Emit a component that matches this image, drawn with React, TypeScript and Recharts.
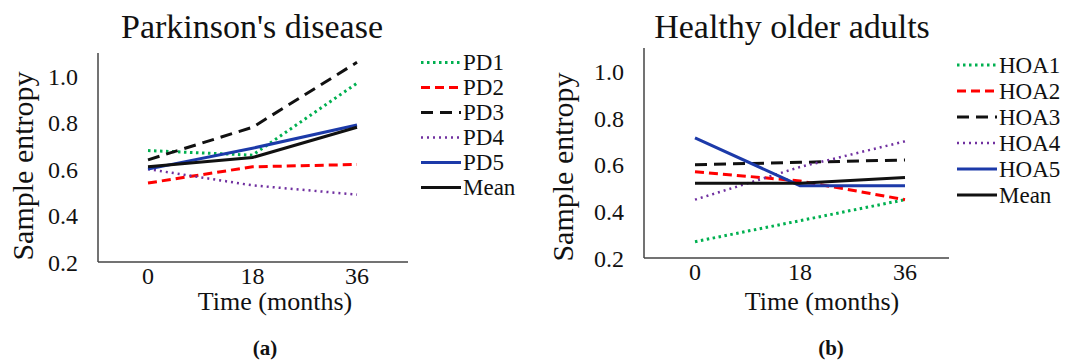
import React from 'react';
import { LineChart, Line, XAxis, YAxis } from 'recharts';

const FONT = '"Liberation Serif", "Times New Roman", Times, serif';

const months = ['0', '18', '36'];
const yTicks = [0.2, 0.4, 0.6, 0.8, 1.0];

// Parkinson's disease
const pd1 = [0.68, 0.66, 0.97];
const pd2 = [0.54, 0.61, 0.62];
const pd3 = [0.64, 0.78, 1.06];
const pd4 = [0.6, 0.53, 0.49];
const pd5 = [0.6, 0.69, 0.79];
const pdMean = [0.61, 0.65, 0.78];

// Healthy older adults
const hoa1 = [0.27, 0.36, 0.45];
const hoa2 = [0.57, 0.53, 0.45];
const hoa3 = [0.6, 0.61, 0.62];
const hoa4 = [0.45, 0.59, 0.7];
const hoa5 = [0.715, 0.51, 0.51];
const hoaMean = [0.52, 0.52, 0.545];

const pdNames = ['PD1', 'PD2', 'PD3', 'PD4', 'PD5', 'Mean'];
const hoaNames = ['HOA1', 'HOA2', 'HOA3', 'HOA4', 'HOA5', 'Mean'];

const pdValues = [pd1, pd2, pd3, pd4, pd5, pdMean];
const hoaValues = [hoa1, hoa2, hoa3, hoa4, hoa5, hoaMean];

const styles = [
  { color: '#00B050', dash: '2.5 3.5', width: 3 },
  { color: '#FF0000', dash: '9 5', width: 3 },
  { color: '#111111', dash: '12 7', width: 3 },
  { color: '#7030A0', dash: '2 4', width: 2.5 },
  { color: '#1c3aa9', dash: undefined as string | undefined, width: 3 },
  { color: '#111111', dash: undefined as string | undefined, width: 3 },
];

const pdData = months.map((m, i) => {
  const row: Record<string, any> = { month: m };
  pdNames.forEach((n, k) => (row[n] = pdValues[k][i]));
  return row;
});
const hoaData = months.map((m, i) => {
  const row: Record<string, any> = { month: m };
  hoaNames.forEach((n, k) => (row[n] = hoaValues[k][i]));
  return row;
});

const axisLine = { stroke: '#444', strokeWidth: 1.5 };
const tickTextStyle = { fontSize: '24px', fontFamily: FONT, fill: '#111' };

const XTick = (p: any) => (
  <text x={p.x} y={p.y} dy="0.71em" textAnchor="middle" style={tickTextStyle}>
    {p.payload.value}
  </text>
);
const YTick = (p: any) => (
  <text x={p.x} y={p.y} dy="0.355em" textAnchor="end" style={tickTextStyle}>
    {Number(p.payload.value).toFixed(1)}
  </text>
);

function Panel({ data, names, margin, padding }: { data: any[]; names: string[]; margin: any; padding: any }) {
  return (
    <LineChart width={540} height={330} data={data} margin={margin}>
      <XAxis
        dataKey="month"
        height={50}
        tick={XTick}
        tickLine={false}
        tickSize={5}
        tickMargin={0}
        padding={padding}
        axisLine={axisLine}
      />
      <YAxis
        width={60}
        domain={[0.2, 1.1]}
        ticks={yTicks}
        allowDataOverflow
        tick={YTick}
        tickLine={false}
        tickSize={6}
        tickMargin={14}
        axisLine={axisLine}
      />
      {names.map((n, k) => (
        <Line
          key={n}
          type="linear"
          dataKey={n}
          stroke={styles[k].color}
          strokeWidth={styles[k].width}
          strokeDasharray={styles[k].dash}
          dot={false}
          activeDot={false}
          isAnimationActive={false}
        />
      ))}
    </LineChart>
  );
}

function LegendBox({ names, left, top, rowH, lineLen }: { names: string[]; left: number; top: number; rowH: number; lineLen: number }) {
  return (
    <svg width={150} height={rowH * names.length + 10} style={{ position: 'absolute', left, top }}>
      {names.map((n, k) => {
        const cy = rowH / 2 + k * rowH;
        return (
          <g key={n}>
            <line
              x1={0}
              y1={cy}
              x2={lineLen}
              y2={cy}
              stroke={styles[k].color}
              strokeWidth={styles[k].width}
              strokeDasharray={styles[k].dash}
            />
            <text x={lineLen + 2} y={cy} dy="0.34em" style={{ fontSize: '23px', fontFamily: FONT, fill: '#111' }}>
              {n}
            </text>
          </g>
        );
      })}
    </svg>
  );
}

export default function App() {
  return (
    <div style={{ position: 'absolute', left: 0, top: 0, width: 1083, height: 363, background: '#fff', overflow: 'hidden' }}>
      <div style={{ position: 'absolute', left: 0, top: 0 }}>
        <Panel
          data={pdData}
          names={pdNames}
          margin={{ top: 53, right: 132, bottom: 18, left: 38 }}
          padding={{ left: 50, right: 51 }}
        />
      </div>
      <div style={{ position: 'absolute', left: 540, top: 0 }}>
        <Panel
          data={hoaData}
          names={hoaNames}
          margin={{ top: 48, right: 131, bottom: 22, left: 44 }}
          padding={{ left: 51, right: 44 }}
        />
      </div>
      <LegendBox names={pdNames} left={421} top={50} rowH={25} lineLen={40} />
      <LegendBox names={hoaNames} left={957} top={52} rowH={26} lineLen={40} />
      <svg width={1083} height={363} style={{ position: 'absolute', left: 0, top: 0, pointerEvents: 'none' }}>
        <g style={{ fontFamily: FONT }} fill="#111">
          <text x={252} y={38} style={{ fontSize: '34px' }} textAnchor="middle">Parkinson's disease</text>
          <text x={792} y={38} style={{ fontSize: '34px' }} textAnchor="middle">Healthy older adults</text>
          <text x={22} y={166} style={{ fontSize: '30px' }} textAnchor="middle" dominantBaseline="central" transform="rotate(-90 22 166)">Sample entropy</text>
          <text x={562} y={167} style={{ fontSize: '30px' }} textAnchor="middle" dominantBaseline="central" transform="rotate(-90 562 167)">Sample entropy</text>
          <text x={275} y={310} style={{ fontSize: '26px' }} textAnchor="middle">Time (months)</text>
          <text x={822} y={310} style={{ fontSize: '26px' }} textAnchor="middle">Time (months)</text>
          <text x={265} y={355} style={{ fontSize: '21px', fontWeight: 'bold' }} textAnchor="middle">(a)</text>
          <text x={831} y={355} style={{ fontSize: '21px', fontWeight: 'bold' }} textAnchor="middle">(b)</text>
        </g>
      </svg>
    </div>
  );
}
